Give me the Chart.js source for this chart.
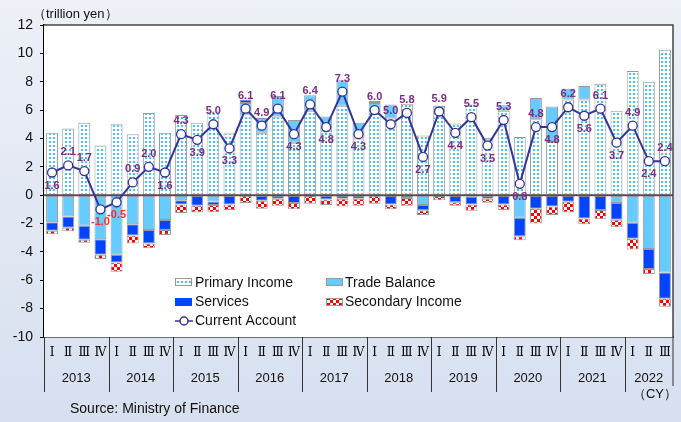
<!DOCTYPE html>
<html>
<head>
<meta charset="utf-8">
<script src="https://cdn.jsdelivr.net/npm/chart.js@4.4.0/dist/chart.umd.min.js"></script>
<style>
html,body{margin:0;padding:0;}
body{width:681px;height:422px;overflow:hidden;background:linear-gradient(#edf0f7,#d6e0ef);}
</style>
</head>
<body>
<canvas id="chart" width="681" height="422"></canvas>
<script>
// quarterly, 2013 Q1 .. 2022 Q3, trillion yen
const years = ['2013','2014','2015','2016','2017','2018','2019','2020','2021','2022'];
const quarterNames = ['Ⅰ','Ⅱ','Ⅲ','Ⅳ'];

const primaryIncome = [
  4.4, 4.7, 5.1, 3.5,
  5.0, 4.3, 5.8, 4.4,
  5.65, 5.1, 5.9, 4.35,
  5.7, 4.4, 5.55, 3.7,
  5.95, 4.55, 6.3, 4.0,
  5.85, 5.4, 6.45, 4.2,
  6.1, 5.05, 6.4, 3.85,
  5.95, 4.1, 5.35, 3.75,
  6.75, 6.75, 7.85, 5.95,
  8.75, 8.0, 10.25
];
const tradeBalance = [
  -1.9, -1.5, -2.15, -3.1,
  -4.2, -2.05, -2.45, -1.75,
  -0.35, -0.05, -0.45, 0.05,
  0.8, 1.05, 1.45, 1.6,
  1.1, 1.0, 1.8, 1.1,
  0.65, 1.0, -0.05, -0.7,
  0.2, -0.05, -0.1, 0.2,
  0.4, -1.6, 1.5, 2.5,
  0.75, 0.95, -0.05, -0.55,
  -1.95, -3.8, -5.45
];
const services = [
  -0.6, -0.8, -1.0, -1.1,
  -0.55, -0.8, -0.95, -0.7,
  -0.3, -0.7, -0.25, -0.65,
  0.25, -0.4, -0.25, -0.55,
  -0.05, -0.3, -0.25, -0.25,
  0.15, -0.65, -0.15, -0.37,
  -0.05, -0.45, -0.55, -0.25,
  -0.65, -1.3, -0.95, -0.8,
  -0.47, -1.65, -1.0, -1.18,
  -1.13, -1.4, -1.85
];
const secondaryIncome = [
  -0.25, -0.25, -0.2, -0.3,
  -0.65, -0.55, -0.35, -0.35,
  -0.6, -0.47, -0.5, -0.39,
  -0.56, -0.55, -0.5, -0.45,
  -0.55, -0.4, -0.55, -0.5,
  -0.6, -0.35, -0.55, -0.33,
  -0.3, -0.25, -0.45, -0.28,
  -0.4, -0.28, -1.04, -0.6,
  -0.75, -0.4, -0.65, -0.54,
  -0.75, -0.36, -0.57
];
const currentAccount = [
  1.6, 2.1, 1.7, -1.0,
  -0.5, 0.9, 2.0, 1.6,
  4.3, 3.9, 5.0, 3.3,
  6.1, 4.9, 6.1, 4.3,
  6.4, 4.8, 7.3, 4.3,
  6.0, 5.0, 5.8, 2.7,
  5.9, 4.4, 5.5, 3.5,
  5.3, 0.8, 4.8, 4.8,
  6.2, 5.6, 6.1, 3.7,
  4.9, 2.4, 2.4
];
// a = label above the point, b = below
const labelSide = 'baabbaabababaaabababaaababababababababa'.split('');

const labels = currentAccount.map((v, i) => quarterNames[i % 4]);

const tradeColor = '#66ccff';
const servicesColor = '#0044ff';
const lineColor = '#333399';

function dotPattern() {
  let c = document.createElement('canvas');
  c.width = 4; c.height = 4;
  let g = c.getContext('2d');
  g.fillStyle = '#ffffff'; g.fillRect(0, 0, 4, 4);
  g.fillStyle = '#45c4f2'; g.fillRect(1, 1, 2, 2);
  return g.createPattern(c, 'repeat');
}
function checkPattern() {
  let c = document.createElement('canvas');
  c.width = 6; c.height = 6;
  let g = c.getContext('2d');
  g.fillStyle = '#ffffff'; g.fillRect(0, 0, 6, 6);
  g.fillStyle = '#ff0000';
  g.fillRect(0, 0, 3, 3); g.fillRect(3, 3, 3, 3);
  return g.createPattern(c, 'repeat');
}
const dots = dotPattern();
const checks = checkPattern();

const FONT = '"Liberation Sans", Arial, sans-serif';

const extras = {
  id: 'extras',
  beforeDatasetsDraw(chart) {
    const a = chart.chartArea, ctx = chart.ctx;
    ctx.save();
    ctx.fillStyle = '#ffffff';
    ctx.fillRect(a.left, a.top, a.right - a.left, a.bottom - a.top);
    ctx.restore();
  },
  afterDatasetDraw(chart, args) {
    if (args.index !== 0) return;
    const a = chart.chartArea, ctx = chart.ctx;
    const y0 = chart.scales.y.getPixelForValue(0);
    ctx.save();
    ctx.strokeStyle = '#505050';
    ctx.lineWidth = 2;
    ctx.beginPath(); ctx.moveTo(a.left, y0); ctx.lineTo(a.right, y0); ctx.stroke();
    ctx.restore();
  },
  afterDatasetsDraw(chart) {
    const ctx = chart.ctx;
    const meta = chart.getDatasetMeta(4);
    ctx.save();
    ctx.font = 'bold 11px ' + FONT;
    ctx.textAlign = 'center';
    ctx.textBaseline = 'middle';
    meta.data.forEach((pt, i) => {
      const v = currentAccount[i];
      ctx.fillStyle = v < 0 ? '#ff2a2a' : '#7b2c83';
      const dy = labelSide[i] === 'a' ? -13 : 13;
      ctx.fillText(v.toFixed(1), pt.x, pt.y + dy);
    });
    ctx.restore();
  },
  afterDraw(chart) {
    const a = chart.chartArea, ctx = chart.ctx;
    const x = chart.scales.x;
    ctx.save();
    // frame
    ctx.strokeStyle = '#444';
    ctx.lineWidth = 1.5;
    ctx.beginPath();
    ctx.moveTo(a.left, a.top); ctx.lineTo(a.right, a.top); ctx.lineTo(a.right, a.bottom);
    ctx.stroke();

    // year separators and labels
    const step = (a.right - a.left) / currentAccount.length;
    ctx.strokeStyle = '#333';
    ctx.lineWidth = 1;
    ctx.fillStyle = '#111';
    ctx.font = '13px ' + FONT;
    ctx.textAlign = 'center';
    ctx.textBaseline = 'middle';
    years.forEach((yr, k) => {
      const x0 = a.left + 4 * k * step;
      const n = Math.min(4, currentAccount.length - 4 * k);
      const x1 = x0 + n * step;
      ctx.beginPath(); ctx.moveTo(Math.round(x0) + 0.5, a.bottom); ctx.lineTo(Math.round(x0) + 0.5, 392); ctx.stroke();
      ctx.fillText(yr, (x0 + x1) / 2, 378);
    });
    ctx.beginPath(); ctx.moveTo(a.right, a.bottom); ctx.lineTo(a.right, 386); ctx.stroke();

    ctx.font = '13px ' + FONT;
    ctx.fillText('（CY）', 655, 394);
    ctx.textAlign = 'left';
    ctx.font = '14px ' + FONT;
    ctx.fillText('Source: Ministry of Finance', 70, 409);
    ctx.font = '13px ' + FONT;
    ctx.fillText('（trillion yen）', 33, 14);

    // legend
    ctx.font = '14px ' + FONT;
    ctx.fillStyle = '#111';
    const box = (bx, by, fill, border) => {
      ctx.fillStyle = fill;
      ctx.fillRect(bx, by, 17, 8);
      if (border) { ctx.strokeStyle = '#999'; ctx.lineWidth = 1; ctx.strokeRect(bx + 0.5, by + 0.5, 16, 7); }
    };
    box(175, 278, dots, true);
    box(326, 278, tradeColor, true);
    box(175, 298, servicesColor, false);
    box(326, 298, checks, true);
    ctx.fillStyle = '#111';
    ctx.fillText('Primary Income', 195, 283);
    ctx.fillText('Trade Balance', 345, 283);
    ctx.fillText('Services', 195, 302);
    ctx.fillText('Secondary Income', 345, 302);
    ctx.strokeStyle = lineColor; ctx.lineWidth = 1.5;
    ctx.beginPath(); ctx.moveTo(175, 321); ctx.lineTo(193, 321); ctx.stroke();
    ctx.beginPath(); ctx.arc(184, 321, 4, 0, Math.PI * 2);
    ctx.fillStyle = '#fff'; ctx.fill(); ctx.stroke();
    ctx.fillStyle = '#111';
    ctx.fillText('Current Account', 195, 321);
    ctx.restore();
  }
};

const barBase = {
  type: 'bar',
  stack: 'bars',
  order: 1,
  borderColor: '#9a9a9a',
  borderWidth: 1,
  borderSkipped: false,
  barPercentage: 0.74,
  categoryPercentage: 1.0
};

new Chart(document.getElementById('chart'), {
  data: {
    labels: labels,
    datasets: [
      Object.assign({}, barBase, { label: 'Primary Income', data: primaryIncome, backgroundColor: dots }),
      Object.assign({}, barBase, { label: 'Trade Balance', data: tradeBalance, backgroundColor: tradeColor }),
      Object.assign({}, barBase, { label: 'Services', data: services, backgroundColor: servicesColor }),
      Object.assign({}, barBase, { label: 'Secondary Income', data: secondaryIncome, backgroundColor: checks }),
      {
        type: 'line',
        label: 'Current Account',
        stack: 'ca',
        order: 0,
        data: currentAccount,
        borderColor: lineColor,
        borderWidth: 2,
        pointRadius: 4.5,
        pointBackgroundColor: '#ffffff',
        pointBorderColor: lineColor,
        pointBorderWidth: 1.3,
        tension: 0
      }
    ]
  },
  options: {
    responsive: false,
    animation: false,
    layout: { padding: { left: 0, right: 8, top: 25, bottom: 0 } },
    plugins: { legend: { display: false }, tooltip: { enabled: false } },
    scales: {
      x: {
        stacked: true,
        grid: { display: false, drawTicks: false },
        border: { display: true, color: '#000', width: 1.5 },
        ticks: {
          autoSkip: false, maxRotation: 0, padding: 9,
          color: '#000',
          font: { family: '"Liberation Serif", "DejaVu Serif", serif', size: 12 }
        },
        afterFit(s) { s.height = 85; }
      },
      y: {
        stacked: true,
        min: -10, max: 12,
        ticks: { stepSize: 2, color: '#111', padding: 7, font: { family: FONT, size: 14 } },
        grid: { drawOnChartArea: false, drawTicks: true, tickLength: 4, tickColor: '#000' },
        border: { display: true, color: '#000', width: 1.5 },
        afterFit(s) { s.width = 44; }
      }
    }
  },
  plugins: [extras]
});
</script>
</body>
</html>
